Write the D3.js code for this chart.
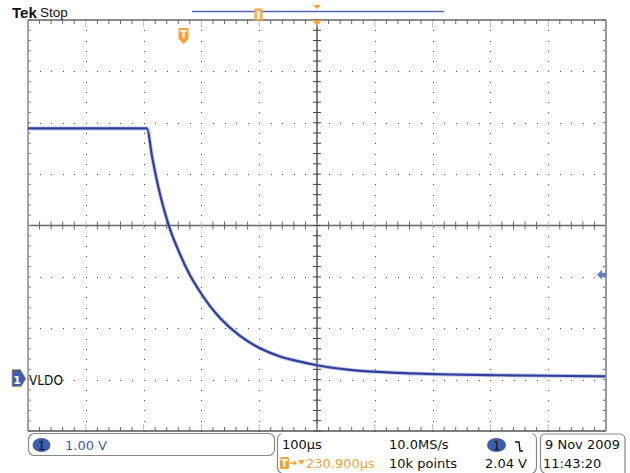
<!DOCTYPE html>
<html>
<head>
<meta charset="utf-8">
<script src="https://cdn.jsdelivr.net/npm/d3@7"></script>
<style>
  html, body { margin: 0; padding: 0; background: #fff; }
  svg { display: block; font-family: "DejaVu Sans", sans-serif; }
</style>
</head>
<body>
<div id="root"></div>
<script>
// trace: time (µs, 0 = screen centre) and volts
const timeUs = [-500, -400, -294.1, -285.5, -275.1, -264.7, -254.3, -237, -219.7, -202.4, -185.1,
  -167.8, -133.2, -98.6, -64, -29.4, 0, 57.1, 143.6, 230.1, 316.6, 403.1, 498.3];
const voltsV = [4.89, 4.89, 4.89, 4.35, 3.78, 3.31, 2.93, 2.44, 2.03, 1.71, 1.43,
  1.20, 0.85, 0.61, 0.45, 0.35, 0.28, 0.19, 0.13, 0.10, 0.085, 0.075, 0.065];

const timeDomain = [-500, 500];   // 100µs/div, 10 div
const voltDomain = [-1, 7];       // 1.00 V/div, 8 div
const triggerLevel = 2.04;
const triggerTime = -230.9;

const chLabel = "VLDO";
const statusTop = ["100µs", "10.0MS/s"];
const statusBottom = ["230.900µs", "10k points", "2.04 V"];
const dateLines = ["9 Nov 2009", "11:43:20"];
const scaleLabel = "1.00 V";

const W = 630, H = 473;
const margin = { top: 20, left: 28, right: 24, bottom: 42 };
const orange = "#f4a23a", badge = "#3d5eab", trace = "#2e3f9d";

const x = d3.scaleLinear().domain(timeDomain).range([margin.left, W - margin.right]);
const y = d3.scaleLinear().domain(voltDomain).range([H - margin.bottom, margin.top]);

const svg = d3.select("#root").append("svg").attr("width", W).attr("height", H);
const g = svg.append("g");

// dotted graticule
const minorT = d3.range(timeDomain[0], timeDomain[1] + 0.1, 20);
const minorV = d3.range(voltDomain[0], voltDomain[1] + 0.01, 0.2);
const majorT = d3.range(-400, 401, 100).filter(d => d !== 0);
const majorV = d3.range(0, 7, 1).filter(d => d !== 3);

majorT.forEach(t => {
  g.selectAll(null).data(minorV).enter().append("rect")
    .attr("x", Math.round(x(t))).attr("y", d => Math.round(y(d)))
    .attr("width", 1).attr("height", 1).attr("fill", "#444");
});
majorV.forEach(v => {
  g.selectAll(null).data(minorT).enter().append("rect")
    .attr("x", d => Math.round(x(d))).attr("y", Math.round(y(v)))
    .attr("width", 1).attr("height", 1).attr("fill", "#444");
});

// centre cross with ticks
const cx = x(0), cy = y(3);
g.append("line").attr("x1", x.range()[0]).attr("x2", x.range()[1]).attr("y1", cy).attr("y2", cy)
  .attr("stroke", "#666").attr("stroke-width", 1.5);
g.append("line").attr("x1", cx).attr("x2", cx).attr("y1", y.range()[1]).attr("y2", y.range()[0])
  .attr("stroke", "#555").attr("stroke-width", 1.5);
g.selectAll(null).data(minorT).enter().append("line")
  .attr("x1", d => x(d)).attr("x2", d => x(d)).attr("y1", cy - 4).attr("y2", cy + 4)
  .attr("stroke", d => d % 100 === 0 ? "#bbb" : "#666").attr("stroke-width", 1);
g.selectAll(null).data(minorV).enter().append("line")
  .attr("y1", d => y(d)).attr("y2", d => y(d)).attr("x1", cx - 4).attr("x2", cx + 4)
  .attr("stroke", "#444").attr("stroke-width", 1);

// frame edges with inward ticks
const x0 = x.range()[0], x1 = x.range()[1], yT = y.range()[1], yB = y.range()[0];
g.selectAll(null).data(minorT).enter().append("line")
  .attr("x1", d => x(d)).attr("x2", d => x(d)).attr("y1", yT).attr("y2", d => yT + (d % 100 === 0 ? 7 : 4))
  .attr("stroke", d => d % 100 === 0 ? "#bbb" : "#666");
g.selectAll(null).data(minorT).enter().append("line")
  .attr("x1", d => x(d)).attr("x2", d => x(d)).attr("y1", yB).attr("y2", d => yB - (d % 100 === 0 ? 7 : 4))
  .attr("stroke", d => d % 100 === 0 ? "#bbb" : "#666");
g.selectAll(null).data(minorV).enter().append("line")
  .attr("y1", d => y(d)).attr("y2", d => y(d)).attr("x1", x0).attr("x2", x0 + 3).attr("stroke", "#888");
g.selectAll(null).data(minorV).enter().append("line")
  .attr("y1", d => y(d)).attr("y2", d => y(d)).attr("x1", x1).attr("x2", x1 - 3).attr("stroke", "#666");
g.append("line").attr("x1", x0).attr("x2", x1).attr("y1", yT).attr("y2", yT).attr("stroke", "#666").attr("stroke-width", 1.5);
g.append("line").attr("x1", x0).attr("x2", x1).attr("y1", yB).attr("y2", yB).attr("stroke", "#555").attr("stroke-width", 1.5);
g.append("line").attr("x1", x0).attr("x2", x0).attr("y1", yT).attr("y2", yB).attr("stroke", "#888").attr("stroke-width", 1.5);
g.append("line").attr("x1", x1).attr("x2", x1).attr("y1", yT).attr("y2", yB).attr("stroke", "#999").attr("stroke-width", 2);

// waveform
const data = timeUs.map((t, i) => ({ t, v: voltsV[i] }));
const line = d3.line().x(d => x(d.t)).y(d => y(d.v)).curve(d3.curveMonotoneX);
g.append("path").datum(data).attr("d", line).attr("fill", "none")
  .attr("stroke", "#8a96cc").attr("stroke-width", 4).attr("stroke-opacity", 0.5);
g.append("path").datum(data).attr("d", line).attr("fill", "none")
  .attr("stroke", trace).attr("stroke-width", 2.2);

// trigger markers
const tx = x(triggerTime);
g.append("path")
  .attr("d", `M${tx - 5},28 h10 v11 l-5,5 l-5,-5 Z`).attr("fill", orange);
g.append("text").attr("x", tx).attr("y", 38).attr("text-anchor", "middle")
  .attr("font-size", 10).attr("font-weight", "bold").attr("fill", "#fff").text("T");
g.append("path").attr("d", `M${cx - 5},${yT} h10 l-5,6 Z`).attr("fill", orange);

// trigger level arrow (right)
const ty = y(triggerLevel);
g.append("path")
  .attr("d", `M${x1 - 9},${ty} l5,-5 v3 h4 v4 h-4 v3 Z`).attr("fill", "#5a7bc6");

// record bar
svg.append("line").attr("x1", 192).attr("x2", 444).attr("y1", 11.5).attr("y2", 11.5)
  .attr("stroke", "#5167b4").attr("stroke-width", 1.5);
svg.append("rect").attr("x", 255).attr("y", 9).attr("width", 7).attr("height", 11)
  .attr("fill", "#f7b960").attr("stroke", orange);
svg.append("rect").attr("x", 257.5).attr("y", 11).attr("width", 2).attr("height", 8).attr("fill", "#fff");
svg.append("path").attr("d", `M${cx - 4},5 h8 l-4,4 Z`).attr("fill", orange);

// Tek Stop
svg.append("text").attr("x", 12).attr("y", 17.5).attr("fill", "#111")
  .attr("font-family", "Liberation Sans, Arial, sans-serif").attr("font-size", 15)
  .attr("font-weight", "bold").text("Tek");
svg.append("text").attr("x", 40).attr("y", 17).attr("fill", "#111")
  .attr("font-family", "Liberation Sans, Arial, sans-serif").attr("font-size", 13.5).text("Stop");

// ground marker + label
const gy = y(0);
svg.append("path").attr("d", `M12,${gy - 9} h9 l5,8 l-5,8 h-9 Z`).attr("fill", badge).attr("stroke", "#c9a64a").attr("stroke-width", 0.8);
svg.append("line").attr("x1", 12).attr("x2", 21).attr("y1", gy - 9.5).attr("y2", gy - 9.5).attr("stroke", "#222");
svg.append("text").attr("x", 17).attr("y", gy + 4).attr("text-anchor", "middle").attr("font-size", 11)
  .attr("font-weight", "bold").attr("fill", "#fff").text("1");
svg.append("text").attr("x", 29).attr("y", gy + 5).attr("font-size", 14)
  .attr("textLength", 34).attr("lengthAdjust", "spacingAndGlyphs").attr("fill", "#111").text(chLabel);

// status boxes
const st = svg.append("g").attr("font-size", 13).attr("fill", "#111");
st.append("rect").attr("x", 28.5).attr("y", 433.5).attr("width", 246).attr("height", 22).attr("rx", 6)
  .attr("fill", "none").attr("stroke", "#888").attr("stroke-width", 1.2);
st.append("ellipse").attr("cx", 41.5).attr("cy", 445).attr("rx", 9).attr("ry", 7).attr("fill", badge);
st.append("text").attr("x", 41.5).attr("y", 449.5).attr("text-anchor", "middle").attr("font-size", 12).text("1");
st.append("text").attr("x", 65).attr("y", 450).attr("fill", badge).text(scaleLabel);

const bracket = (xx, dir) => `M${xx + 4 * dir},434 Q${xx},434 ${xx},440 L${xx},466 Q${xx},472 ${xx + 4 * dir},473`;
st.append("path").attr("d", bracket(277.5, 1)).attr("fill", "none").attr("stroke", "#888").attr("stroke-width", 1.2);
st.append("path").attr("d", bracket(536.5, -1)).attr("fill", "none").attr("stroke", "#888").attr("stroke-width", 1.2);
st.append("path").attr("d", bracket(540.5, 1) + " M544.5,434 L620,434 Q625,434 625,440 L625,473")
  .attr("fill", "none").attr("stroke", "#888").attr("stroke-width", 1.2);

st.append("text").attr("x", 282).attr("y", 449).text(statusTop[0]);
st.append("text").attr("x", 389).attr("y", 449).text(statusTop[1]);
st.append("rect").attr("x", 280).attr("y", 457).attr("width", 9).attr("height", 12).attr("rx", 1.5).attr("fill", orange);
st.append("text").attr("x", 284.5).attr("y", 467).attr("text-anchor", "middle").attr("font-size", 10)
  .attr("font-weight", "bold").attr("fill", "#fff").text("T");
st.append("path").attr("d", "M290,463 h6 M294,461 l2,2 l-2,2").attr("stroke", orange).attr("stroke-width", 1.4).attr("fill", "none");
st.append("path").attr("d", "M298,460 h7 l-3.5,5 Z").attr("fill", orange);
st.append("text").attr("x", 306).attr("y", 468).attr("fill", orange).text(statusBottom[0]);
st.append("text").attr("x", 389).attr("y", 468).text(statusBottom[1]);

st.append("ellipse").attr("cx", 496.5).attr("cy", 445).attr("rx", 9.5).attr("ry", 7).attr("fill", badge);
st.append("text").attr("x", 496.5).attr("y", 449.5).attr("text-anchor", "middle").attr("font-size", 12).text("1");
st.append("path").attr("d", "M515,442 h4 l1,9 h3").attr("fill", "none").attr("stroke", "#111").attr("stroke-width", 1.4);
st.append("text").attr("x", 527).attr("y", 468).attr("text-anchor", "end").text(statusBottom[2]);

st.append("text").attr("x", 545).attr("y", 449).text(dateLines[0]);
st.append("text").attr("x", 543).attr("y", 468).text(dateLines[1]);
</script>
</body>
</html>
